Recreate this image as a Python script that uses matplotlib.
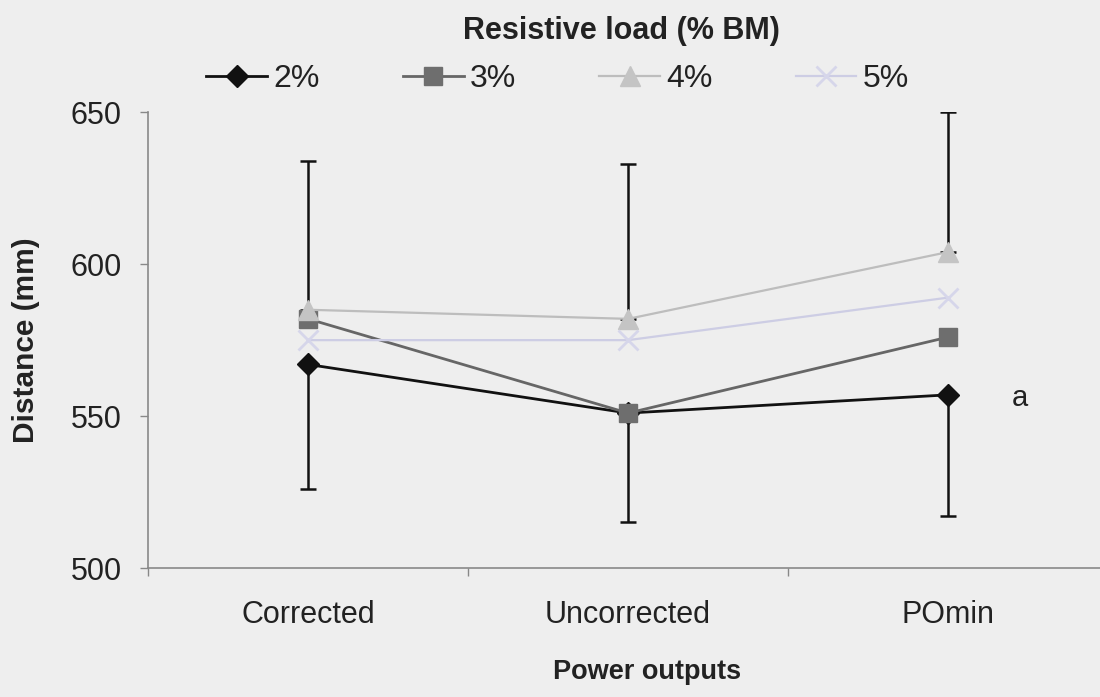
import matplotlib.pyplot as plt

# Jump distance for each resistive load and power output calculation
categories = ["Corrected", "Uncorrected", "POmin"]
loads = ["2%", "3%", "4%", "5%"]
dist_2 = [567, 551, 557]
dist_3 = [582, 551, 576]
dist_4 = [585, 582, 604]
dist_5 = [575, 575, 589]
err_2_down = [41, 36, 40]
err_4_up = [49, 51, 46]
y_ticks = [500, 550, 600, 650]

if __name__ == "__main__":
    plt.rcParams["font.family"] = ["Liberation Sans", "DejaVu Sans"]
    fig = plt.figure(figsize=(11, 6.97), dpi=100, facecolor="#eeeeee")
    ax = fig.add_axes([0.1345, 0.185, 0.873, 0.654])
    ax.set_facecolor("#eeeeee")

    x = list(range(len(categories)))
    styles = [
        (dist_2, "D", 11, "#111111", "#111111", 2.0),
        (dist_3, "s", 13, "#6e6e6e", "#666666", 2.0),
        (dist_4, "^", 14, "#c4c4c4", "#bdbdbd", 1.6),
        (dist_5, "x", 14, "#d6d6ea", "#cdcde4", 1.6),
    ]

    # error bars: lower SD for 2%, upper SD for 4%
    ax.errorbar(x, dist_2, yerr=[err_2_down, [0] * 3], fmt="none",
                ecolor="#111111", elinewidth=1.8, capsize=6, capthick=1.8, zorder=1)
    ax.errorbar(x, dist_4, yerr=[[0] * 3, err_4_up], fmt="none",
                ecolor="#111111", elinewidth=1.8, capsize=6, capthick=1.8, zorder=1)

    # later loads are drawn on top of earlier ones
    handles = []
    for i, ((vals, mk, ms, mc, lc, lw), name) in enumerate(zip(styles, loads)):
        h, = ax.plot(x, vals, color=lc, lw=lw, marker=mk, ms=ms,
                     markerfacecolor=mc, markeredgecolor=mc,
                     markeredgewidth=2 if mk == "x" else 1, label=name, zorder=2 + i)
        handles.append(h)

    ax.text(2.2, dist_2[2] - 1, "a", fontsize=21, va="center", ha="left", color="#222222")

    ax.set_xlim(-0.5, 2.5)
    ax.set_ylim(500, 650)
    ax.set_yticks(y_ticks)
    ax.set_xticks(x)
    ax.set_xticklabels(categories)
    ax.set_xticks([-0.5, 0.5, 1.5, 2.5], minor=True)
    ax.tick_params(axis="x", which="major", length=0, pad=23, labelsize=22, labelcolor="#222222")
    ax.tick_params(axis="x", which="minor", length=6, width=1, color="#888888", direction="out")
    ax.tick_params(axis="y", length=6, width=1, color="#888888", pad=13, labelsize=22,
                   labelcolor="#222222")

    for side in ["top", "right"]:
        ax.spines[side].set_visible(False)
    for side in ["left", "bottom"]:
        ax.spines[side].set_color("#888888")
        ax.spines[side].set_linewidth(1.2)

    ax.set_xlabel("Power outputs", fontsize=19.5, fontweight="bold", color="#222222")
    ax.xaxis.set_label_coords(0.52, -0.2)
    ax.set_ylabel("Distance (mm)", fontsize=21.5, fontweight="bold", color="#222222")
    ax.yaxis.set_label_coords(-0.112, 0.5)

    fig.text(0.565, 0.955, "Resistive load (% BM)", fontsize=22, fontweight="bold",
             ha="center", va="center", color="#222222")
    ax.legend(handles=handles, ncol=4, loc="center", bbox_to_anchor=(0.507, 0.886),
              bbox_transform=fig.transFigure, frameon=False, fontsize=23,
              handlelength=1.9, handletextpad=0.2, columnspacing=2.6, labelcolor="#222222")

    plt.savefig("out.png", dpi=100, facecolor=fig.get_facecolor())
